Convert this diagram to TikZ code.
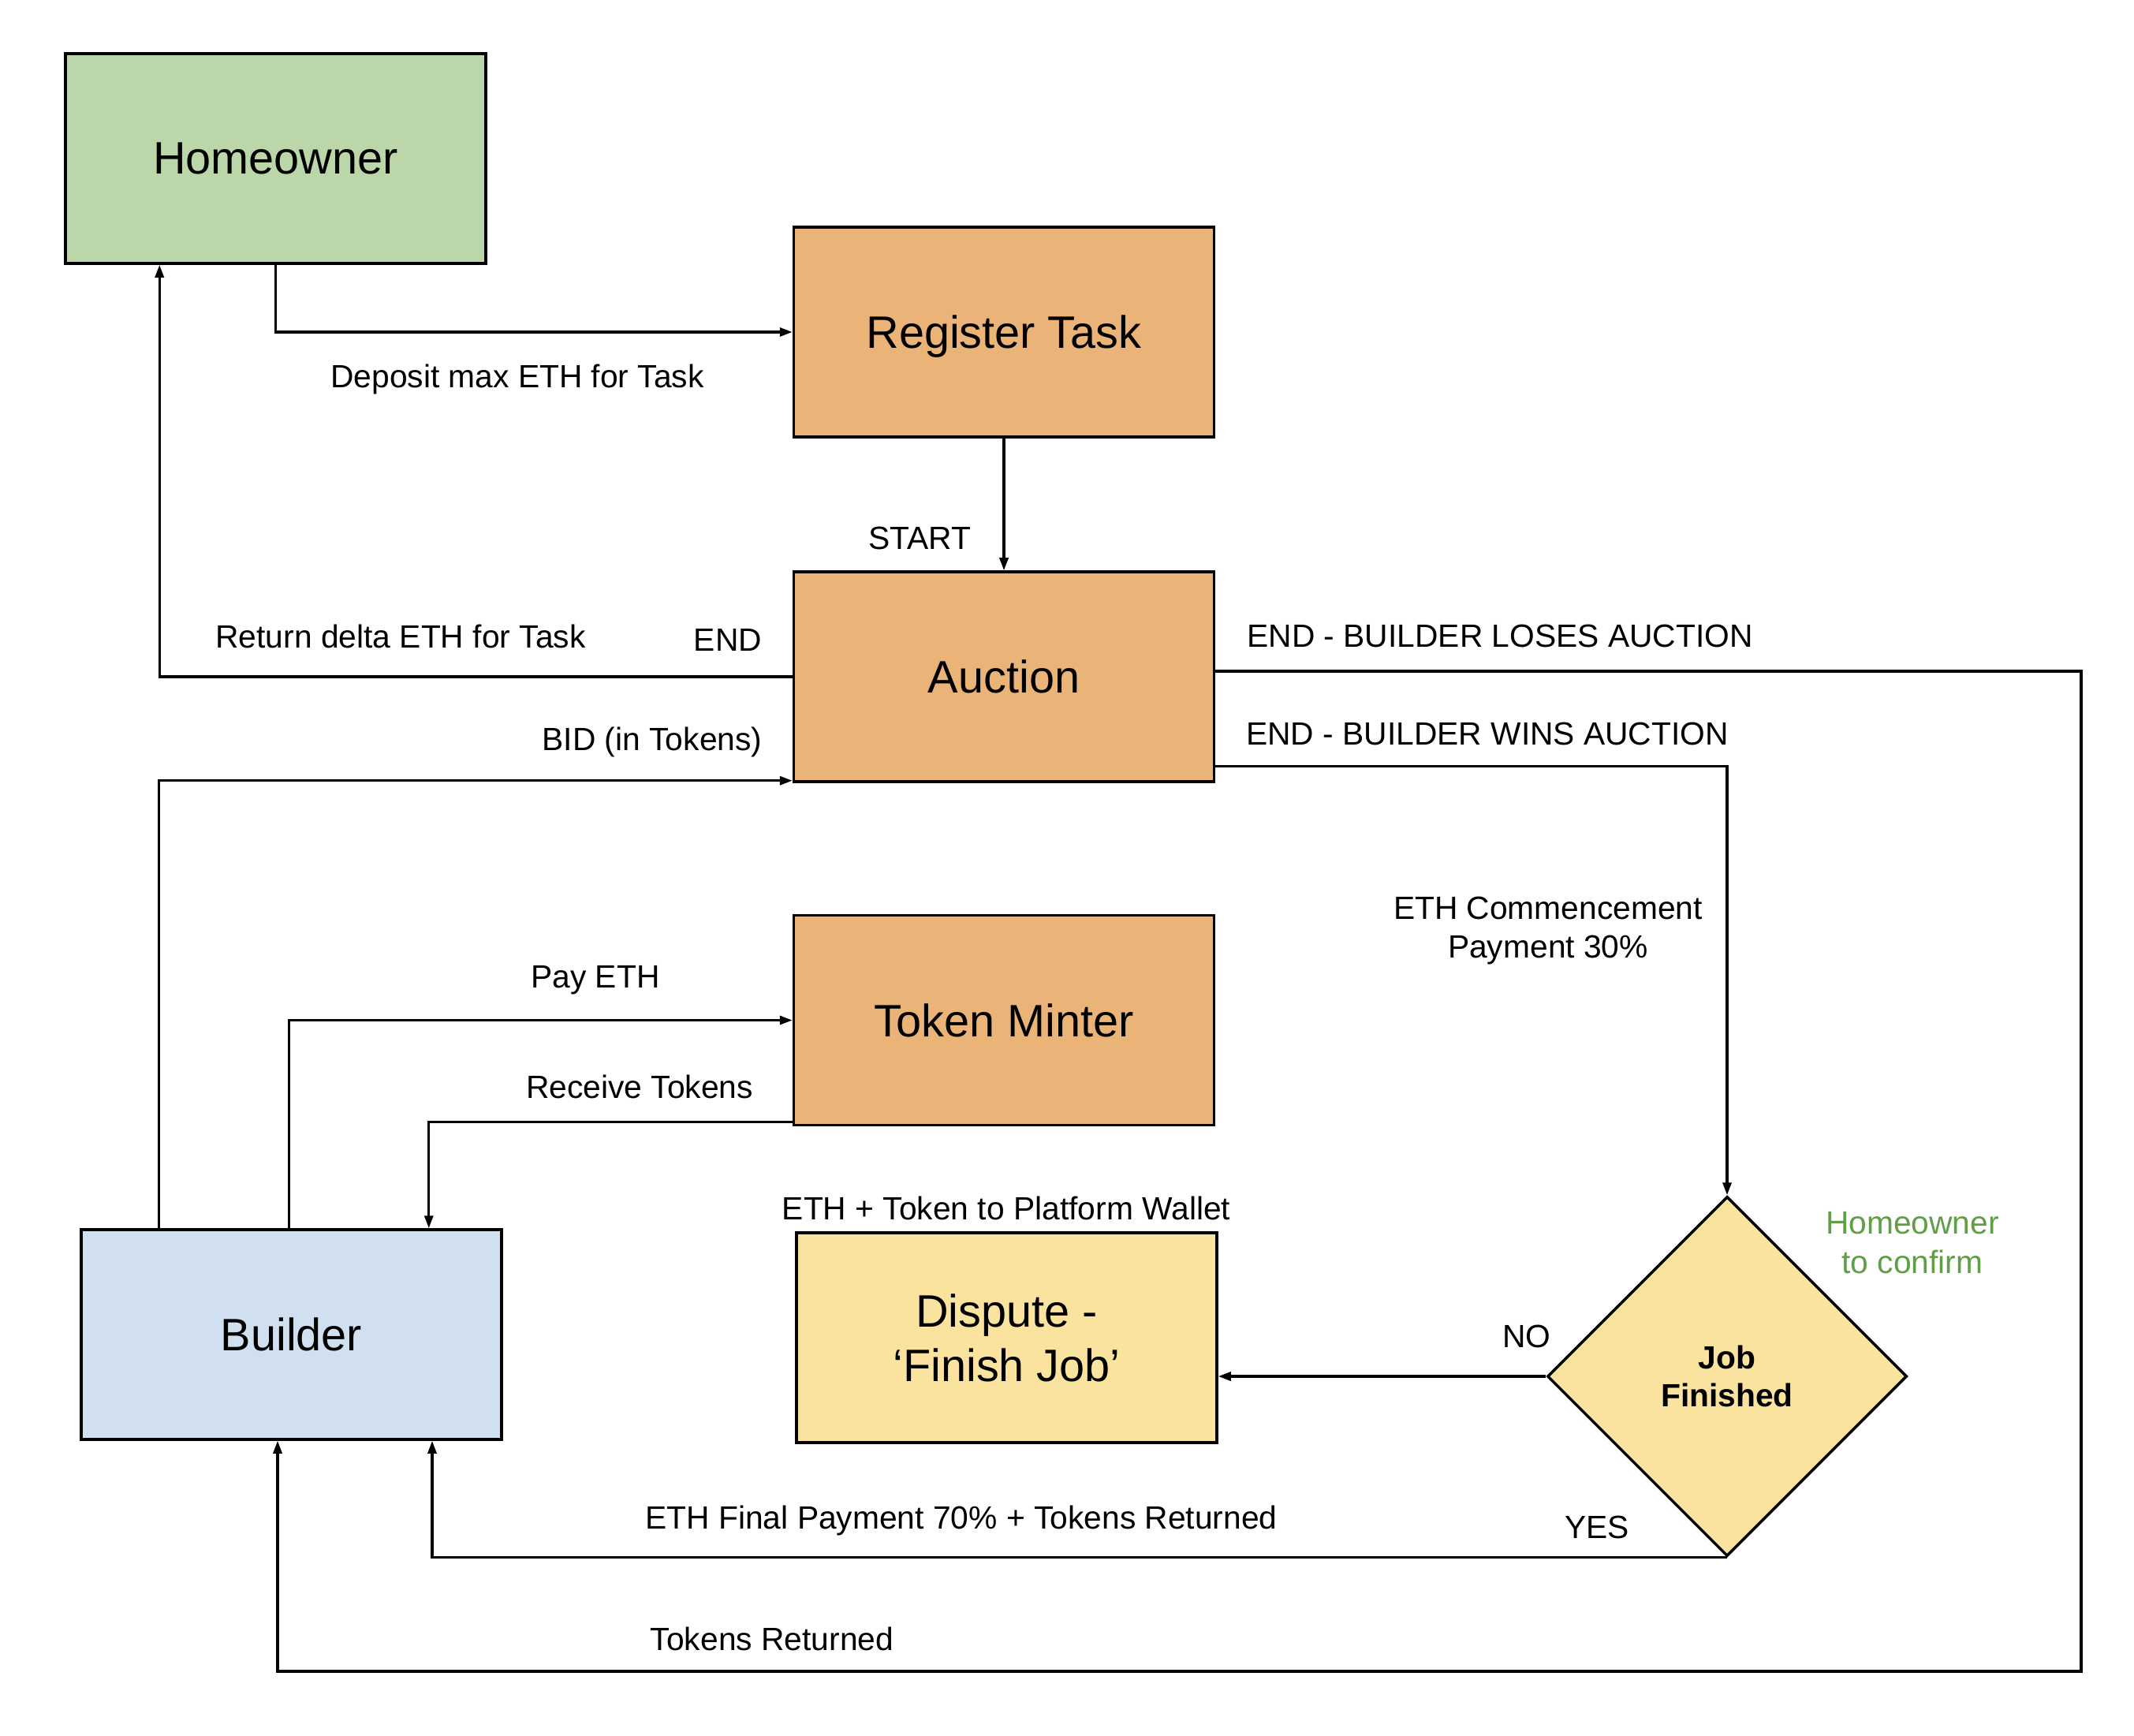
\documentclass[tikz,border=0pt]{standalone}
\usepackage{fontspec}
\setmainfont{Liberation Sans}
\usetikzlibrary{shapes.geometric, arrows.meta}

\definecolor{homegreen}{RGB}{187,215,169}
\definecolor{taskorange}{RGB}{234,179,119}
\definecolor{builderblue}{RGB}{208,224,241}
\definecolor{disputeyellow}{RGB}{249,227,158}
\definecolor{confgreen}{RGB}{97,158,72}

\begin{document}
\begin{tikzpicture}[
    box/.style={
        draw,
        line width=1pt,
        minimum width=5.33cm,
        minimum height=2.66cm,
        align=center,
        text depth=0pt,
        font=\fontsize{16.4}{19.5}\selectfont
    },
    task/.style={
        box,
        fill=taskorange
    },
    decision/.style={
        diamond,
        draw,
        line width=1pt,
        fill=disputeyellow,
        aspect=1,
        inner sep=0pt,
        minimum width=4.56cm,
        minimum height=4.56cm,
        align=center,
        font=\fontsize{11.6}{13.7}\selectfont\bfseries
    },
    lbl/.style={
        inner sep=0pt,
        yshift=-0.04cm,
        align=center,
        font=\fontsize{11.6}{14.2}\selectfont
    },
    arr/.style={
        -{Triangle[length=0.16cm,width=0.11cm]},
        line width=0.9pt
    }
]

\useasboundingbox (0,0) rectangle (27.06,-22.00);

%%%%%%%%%%%%%%%%%%%%%%%%
% Boxes
%%%%%%%%%%%%%%%%%%%%%%%%

\node[box, fill=homegreen] (home) at (3.495,-2.01) {Homeowner};
\node[task] (reg) at (12.73,-4.21) {Register Task};
\node[task] (auc) at (12.73,-8.58) {Auction};
\node[task] (tok) at (12.73,-12.935) {Token Minter};
\node[box, fill=builderblue] (bld) at (3.695,-16.92) {Builder};
\node[box, fill=disputeyellow] (dis) at (12.765,-16.96) {Dispute -\\‘Finish Job’};
\node[decision] (job) at (21.90,-17.45) {Job\\Finished};

%%%%%%%%%%%%%%%%%%%%%%%%
% Connectors
%%%%%%%%%%%%%%%%%%%%%%%%

\coordinate (corner) at (26.39,-21.19);

\draw[arr] (home.south) |- (reg.west);
\draw[arr] (reg.south) -- (auc.north);
\draw[arr] (auc.west) -| ([xshift=1.21cm]home.south west);
\draw[arr] ([xshift=1cm]bld.north west) |- ([yshift=0.03cm]auc.south west);
\draw[arr] ([xshift=-0.03cm]bld.north) |- (tok.west);
\draw[arr] ([yshift=0.06cm]tok.south west) -| ([xshift=-0.94cm]bld.north east);
\draw[arr] ([yshift=0.07cm]auc.east) -| (corner) -| ([xshift=-0.175cm]bld.south);
\draw[arr] ([yshift=0.21cm]auc.south east) -| (job.north);
\draw[arr] (job.west) -- (job.west -| dis.east);
\draw[arr] (job.south) -| ([xshift=1.785cm]bld.south);

%%%%%%%%%%%%%%%%%%%%%%%%
% Labels
%%%%%%%%%%%%%%%%%%%%%%%%

\node[lbl] (ldep) at (6.56,-4.77) {Deposit max ETH for Task};
\node[lbl] (lstart) at (11.66,-6.78) {START};
\node[lbl] (lret) at (5.08,-8.03) {Return delta ETH for Task};
\node[lbl] (lend) at (9.23,-8.07) {END};
\node[lbl] (lbid) at (8.27,-9.37) {BID (in Tokens)};
\node[lbl] (llose) at (19.02,-8.02) {END - BUILDER LOSES AUCTION};
\node[lbl] (lwin) at (18.86,-9.26) {END - BUILDER WINS AUCTION};
\node[lbl] (lcom) at (19.63,-11.76) {ETH Commencement\\Payment 30\%};
\node[lbl] (lpay) at (7.55,-12.39) {Pay ETH};
\node[lbl] (lrec) at (8.11,-13.74) {Receive Tokens};
\node[lbl] (lwal) at (12.76,-15.28) {ETH + Token to Platform Wallet};
\node[lbl] (lno) at (19.36,-16.90) {NO};
\node[lbl, text=confgreen] (lconf) at (24.25,-15.72) {Homeowner\\to confirm};
\node[lbl] (lyes) at (20.25,-19.32) {YES};
\node[lbl] (lfin) at (12.19,-19.24) {ETH Final Payment 70\% + Tokens Returned};
\node[lbl] (ltok) at (9.79,-20.74) {Tokens Returned};

\end{tikzpicture}
\end{document}
